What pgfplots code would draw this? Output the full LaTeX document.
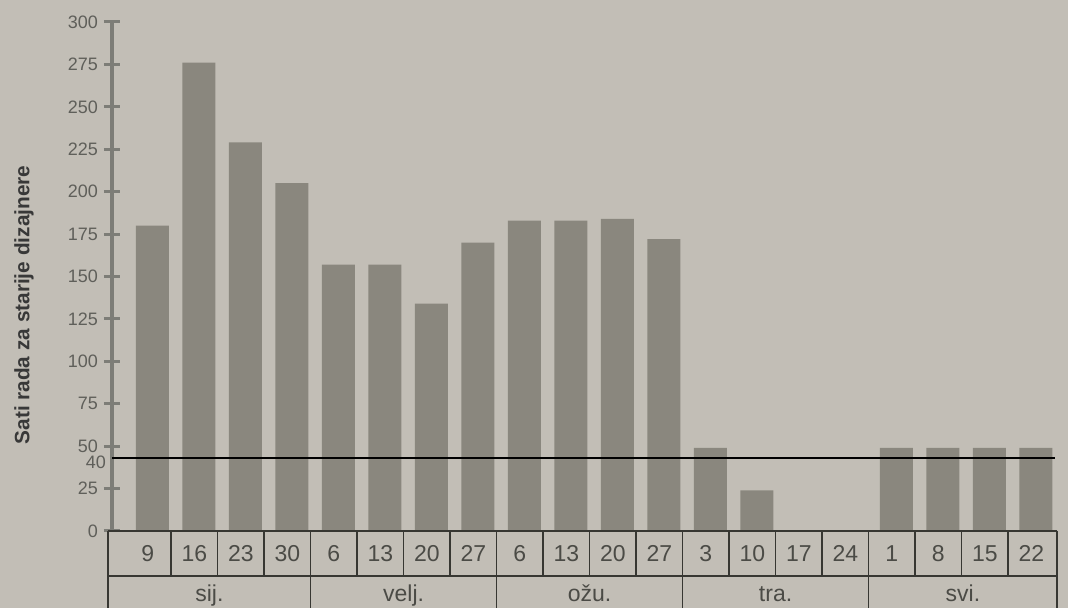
\documentclass[border=0pt]{standalone}
\usepackage{fontspec}
\setmainfont{Liberation Sans}
\usepackage{pgfplots}
\pgfplotsset{compat=1.18}
\definecolor{paper}{RGB}{194,190,182}
\definecolor{barc}{RGB}{138,135,126}
\definecolor{axc}{RGB}{125,125,119}
\definecolor{txt}{RGB}{95,95,90}
\definecolor{tabtxt}{RGB}{75,75,70}
\definecolor{tab}{RGB}{55,55,50}
\begin{document}
\begin{tikzpicture}
\useasboundingbox (0,0) rectangle (534pt,304pt);
\fill[paper] (0,0) rectangle (534pt,304pt);
\begin{axis}[
  at={(56pt,38.5pt)}, anchor=south west,
  width=472.9pt, height=254.5pt, scale only axis,
  xmin=-0.87, xmax=19.47, ymin=0, ymax=300,
  clip=false,
  axis y line*=left, axis x line*=bottom,
  x axis line style={draw=none},
  y axis line style={draw=axc, line width=2pt, -},
  ytick={0,25,...,300},
  extra y ticks={43}, extra y tick labels={40},
  extra y tick style={major tick length=0pt, yticklabel style={yshift=-2pt}},
  ytick align=center, major tick length=8pt,
  ytick style={draw=axc, line width=1.5pt},
  yticklabel style={font=\fontsize{9}{10}\selectfont, text=txt, xshift=0.5pt},
  xtick={-0.1,0.9,1.9,2.9,3.9,4.9,5.9,6.9,7.9,8.9,9.9,10.9,11.9,12.9,13.9,14.9,15.9,16.9,17.9,18.9},
  xticklabels={9,16,23,30,6,13,20,27,6,13,20,27,3,10,17,24,1,8,15,22},
  xticklabel style={font=\fontsize{11.5}{13}\selectfont, text=tabtxt, anchor=center, text height=8.2pt, text depth=0pt, yshift=-11pt},
  xtick style={draw=none},
  /pgf/number format/assume math mode=true,
  ylabel={Sati rada za starije dizajnere},
  ylabel style={at={(axis description cs:-0.093,0.444)}, anchor=center, font=\fontsize{10.4}{12}\selectfont\bfseries, text=black!78},
]
\addplot[ybar, bar width=0.71, fill=barc, draw=none] coordinates {
  (0,180) (1,276) (2,229) (3,205)
  (4,157) (5,157) (6,134) (7,170)
  (8,183) (9,183) (10,184) (11,172)
  (12,49) (13,24) (14,0) (15,0)
  (16,49) (17,49) (18,49) (19,49)
};
\addplot[black, line width=1pt, mark=none] coordinates {(-0.87,43) (19.41,43)};
% table
\draw[tab, line width=0.8pt] (axis cs:-0.95,0) -- (axis cs:19.45,0);
\draw[tab, line width=0.8pt] (axis cs:-0.95,-26.5) -- (axis cs:19.45,-26.5);
\draw[tab, line width=0.8pt] (axis cs:-0.95,0) -- (axis cs:-0.95,-47);
\draw[tab, line width=0.8pt] (axis cs:19.45,0) -- (axis cs:19.45,-47);
\pgfplotsinvokeforeach{0,1,2,4,5,6,8,9,10,12,13,14,16,17,18}{
  \draw[tab, line width=0.8pt] (axis cs:#1+0.4,0) -- (axis cs:#1+0.4,-26.5);
}
\pgfplotsinvokeforeach{3,7,11,15}{
  \draw[tab, line width=0.8pt] (axis cs:#1+0.4,0) -- (axis cs:#1+0.4,-47);
}
\node[font=\fontsize{11.5}{13}\selectfont, text=tabtxt, anchor=base] at (axis cs:1.225,-41.5) {sij.};
\node[font=\fontsize{11.5}{13}\selectfont, text=tabtxt, anchor=base] at (axis cs:5.4,-41.5) {velj.};
\node[font=\fontsize{11.5}{13}\selectfont, text=tabtxt, anchor=base] at (axis cs:9.4,-41.5) {ožu.};
\node[font=\fontsize{11.5}{13}\selectfont, text=tabtxt, anchor=base] at (axis cs:13.4,-41.5) {tra.};
\node[font=\fontsize{11.5}{13}\selectfont, text=tabtxt, anchor=base] at (axis cs:17.43,-41.5) {svi.};
\end{axis}
\end{tikzpicture}
\end{document}
